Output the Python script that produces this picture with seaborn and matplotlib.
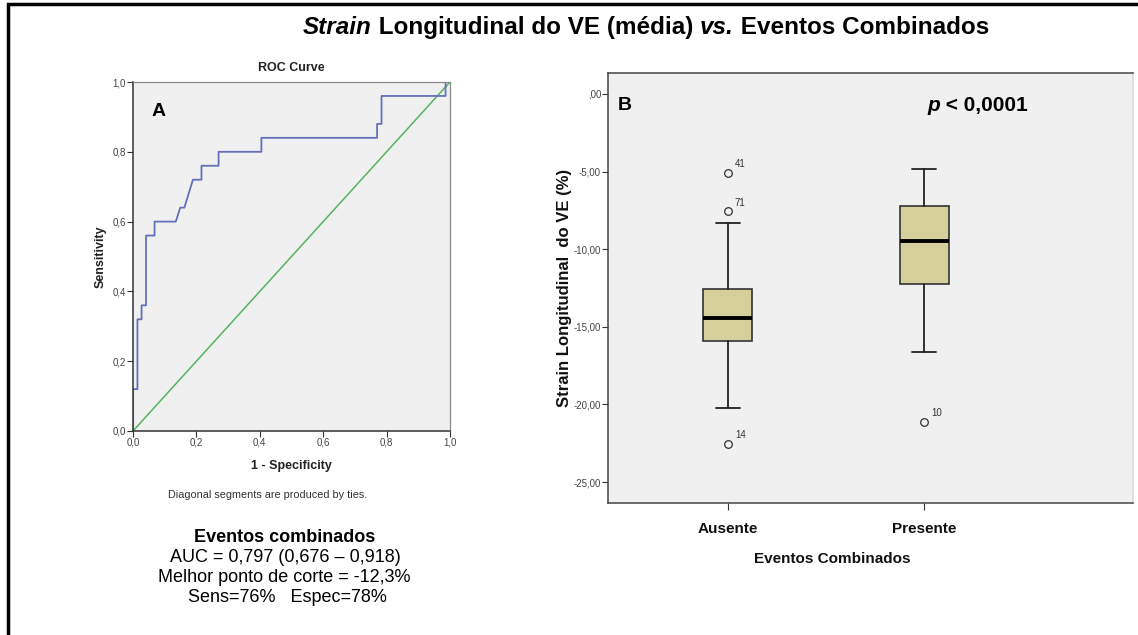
import matplotlib
matplotlib.use("Agg")
import matplotlib.pyplot as plt
from matplotlib.patches import Rectangle
import seaborn as sns

sns.set_theme(style="white")
plt.rcParams["font.family"] = ["Liberation Sans", "DejaVu Sans"]

# ── data ─────────────────────────────────────────────────────────────────────
# ROC curve (1 - specificity, sensitivity)
FPR = [0.0, 0.0, 0.014, 0.014, 0.027, 0.027, 0.041, 0.041, 0.068, 0.068,
       0.135, 0.149, 0.162, 0.189, 0.216, 0.216, 0.270, 0.270, 0.405, 0.405,
       0.770, 0.770, 0.784, 0.784, 0.986, 0.986, 1.0]
TPR = [0.0, 0.12, 0.12, 0.32, 0.32, 0.36, 0.36, 0.56, 0.56, 0.60,
       0.60, 0.64, 0.64, 0.72, 0.72, 0.76, 0.76, 0.80, 0.80, 0.84,
       0.84, 0.88, 0.88, 0.96, 0.96, 1.0, 1.0]
DIAG = [0.0, 1.0]
ROC_TICKS = [0.0, 0.2, 0.4, 0.6, 0.8, 1.0]
ROC_TICK_LABELS = ["0,0", "0,2", "0,4", "0,6", "0,8", "1,0"]

# Box plot summary per group
GROUPS = ["Ausente", "Presente"]
WHISK_LO = [-20.21, -16.60]
Q1 = [-15.89, -12.24]
MEDIAN = [-14.41, -9.45]
Q3 = [-12.58, -7.22]
WHISK_HI = [-8.33, -4.83]
FLIERS = [[-5.07, -7.54, -22.53], [-21.12]]
FLIER_IDS = [["41", "71", "14"], ["10"]]
Y_TICKS = [0, -5, -10, -15, -20, -25]
Y_TICK_LABELS = [",00", "-5,00", "-10,00", "-15,00", "-20,00", "-25,00"]

W, H = 1138, 635
fig = plt.figure(figsize=(W / 100, H / 100), dpi=100)
fig.patch.set_facecolor("white")
renderer = fig.canvas.get_renderer()


def px_box(l, t, r, b):
    return [l / W, 1 - b / H, (r - l) / W, (b - t) / H]


ax1 = fig.add_axes(px_box(133, 82, 450, 431))
ax2 = fig.add_axes(px_box(608, 73, 1133, 503))

# outer frame (cropped on right / bottom)
fig.add_artist(Rectangle((8 / W, -0.05), 1.2, 1 - 4 / H + 0.05,
                         transform=fig.transFigure, fill=False,
                         lw=2.5, ec="black"))

# ── Panel A: ROC curve ───────────────────────────────────────────────────────
ax1.set_facecolor("#F0F0F0")
sns.lineplot(x=DIAG, y=DIAG, color="#55B560", lw=1.1, ax=ax1)
sns.lineplot(x=FPR, y=TPR, sort=False, estimator=None, color="#6470B8",
             lw=1.3, ax=ax1)
ax1.set_xlim(0, 1)
ax1.set_ylim(0, 1)
ax1.set_xticks(ROC_TICKS)
ax1.set_xticklabels(ROC_TICK_LABELS)
ax1.set_yticks(ROC_TICKS)
ax1.set_yticklabels(ROC_TICK_LABELS)
ax1.tick_params(axis="both", labelsize=7, labelcolor="#444", direction="out",
                length=4, width=0.8, color="#333", pad=1, left=True, bottom=True)
ax1.set_xlabel("")
ax1.set_ylabel("")
for side in ["left", "bottom"]:
    ax1.spines[side].set_color("#333")
    ax1.spines[side].set_linewidth(1.1)
for side in ["top", "right"]:
    ax1.spines[side].set_color("#888")
    ax1.spines[side].set_linewidth(0.9)

ax1.text(0.5, 1 + 14 / 349, "ROC Curve", transform=ax1.transAxes,
         ha="center", va="center", fontsize=9, fontweight="bold", color="#222")
ax1.text(-32 / 317, 0.5, "Sensitivity", transform=ax1.transAxes, rotation=90,
         ha="center", va="center", fontsize=9, fontweight="bold", color="#222")
ax1.text(0.5, -35 / 349, "1 - Specificity", transform=ax1.transAxes,
         ha="center", va="center", fontsize=9, fontweight="bold", color="#222")
ax1.text((152 - 133) / 317, (431 - 112) / 349, "A", transform=ax1.transAxes,
         ha="left", va="center", fontsize=14, fontweight="bold", color="black")

fig.text(268 / W, 1 - 495 / H, "Diagonal segments are produced by ties.",
         ha="center", va="center", fontsize=7.8, color="#333")
fig.text(285 / W, 1 - 538 / H, "Eventos combinados", ha="center", va="center",
         fontsize=13, fontweight="bold", color="black")
fig.text(285 / W, 1 - 558 / H, "AUC = 0,797 (0,676 – 0,918)", ha="center",
         va="center", fontsize=13, color="black")
fig.text(284 / W, 1 - 578 / H, "Melhor ponto de corte = -12,3%", ha="center",
         va="center", fontsize=13, color="black")
fig.text(287 / W, 1 - 598 / H, "Sens=76%   Espec=78%", ha="center",
         va="center", fontsize=13, color="black")

# ── Panel B: box plot ────────────────────────────────────────────────────────
ax2.set_facecolor("#F0F0F0")
stats = []
for i, g in enumerate(GROUPS):
    stats.append(dict(label=g, whislo=WHISK_LO[i], q1=Q1[i], med=MEDIAN[i],
                      q3=Q3[i], whishi=WHISK_HI[i], fliers=FLIERS[i]))
ax2.bxp(stats, positions=[0, 1], widths=0.25, capwidths=0.125,
        patch_artist=True, showfliers=True,
        boxprops=dict(facecolor="#D5CF9C", edgecolor="#333", linewidth=1.2),
        medianprops=dict(color="black", linewidth=2.8),
        whiskerprops=dict(color="#222", linewidth=1.3),
        capprops=dict(color="#222", linewidth=1.3),
        flierprops=dict(marker="o", markerfacecolor="none",
                        markeredgecolor="#333", markersize=5.5,
                        markeredgewidth=0.9))
for i, (vals, ids) in enumerate(zip(FLIERS, FLIER_IDS)):
    for v, lab in zip(vals, ids):
        ax2.annotate(lab, xy=(i, v), xytext=(5, 6), textcoords="offset points",
                     fontsize=7, color="#333", ha="left", va="center")

ax2.set_xlim(-0.612, 2.066)
ax2.set_ylim(-26.35, 1.35)
ax2.set_yticks(Y_TICKS)
ax2.set_yticklabels(Y_TICK_LABELS)
ax2.set_xticks([0, 1])
ax2.set_xticklabels(GROUPS, fontsize=11, fontweight="bold", color="#111")
ax2.tick_params(axis="y", labelsize=7, labelcolor="#444", direction="out",
                length=4, width=0.8, color="#333", pad=1, left=True)
ax2.tick_params(axis="x", direction="out", length=5, width=0.8, color="#333",
                pad=9, bottom=True)
for side in ["left", "bottom", "top"]:
    ax2.spines[side].set_color("#444")
    ax2.spines[side].set_linewidth(1.1)
ax2.spines["right"].set_color("#DDDDDD")

ax2.text(-43 / 525, (503 - 288) / 430, "Strain Longitudinal  do VE (%)",
         transform=ax2.transAxes, rotation=90, ha="center", va="center",
         fontsize=12, fontweight="bold", color="#111")
ax2.text((832 - 608) / 525, (503 - 559) / 430, "Eventos Combinados",
         transform=ax2.transAxes, ha="center", va="center",
         fontsize=11, fontweight="bold", color="#111")
ax2.text((625 - 608) / 525, (503 - 106) / 430, "B", transform=ax2.transAxes,
         ha="center", va="center", fontsize=14, fontweight="bold", color="black")


def run_text(x_px, y_px, parts, size):
    """Place text pieces side by side on a shared baseline (figure pixels)."""
    x = x_px
    for txt, st in parts:
        t = fig.text(x / W, 1 - y_px / H, txt, ha="left", va="baseline",
                     fontsize=size, fontweight="bold", style=st, color="black")
        x += t.get_window_extent(renderer).width
    return x


# p-value, right edge at 1028 px
p_parts = [("p", "italic"), (" < 0,0001", "normal")]
probe = [fig.text(0, 0, t, fontsize=15, fontweight="bold", style=s)
         for t, s in p_parts]
p_width = sum(t.get_window_extent(renderer).width for t in probe)
for t in probe:
    t.remove()
run_text(1028 - p_width, 111, p_parts, 15)

# ── title with italic pieces ─────────────────────────────────────────────────
title_parts = [("Strain", "italic"), (" Longitudinal do VE (média) ", "normal"),
               ("vs.", "italic"), (" Eventos Combinados", "normal")]
run_text(303, 34, title_parts, 17.5)

fig.savefig("out.png", dpi=100)
plt.close(fig)
